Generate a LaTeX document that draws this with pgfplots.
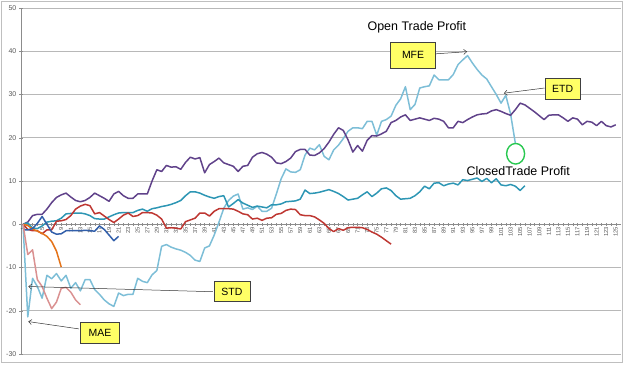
\documentclass[border=0pt]{standalone}
\usepackage{fontspec}
\setmainfont{Liberation Sans}
\usepackage{pgfplots}
\pgfplotsset{compat=1.18}
\usetikzlibrary{arrows.meta}
\definecolor{cpurple}{RGB}{96,66,138}
\definecolor{clblue}{RGB}{125,190,215}
\definecolor{cteal}{RGB}{45,150,180}
\definecolor{cred}{RGB}{190,55,50}
\definecolor{corange}{RGB}{228,115,25}
\definecolor{cdblue}{RGB}{50,95,170}
\definecolor{cpink}{RGB}{218,145,145}
\definecolor{cyellow}{RGB}{255,255,102}
\definecolor{cgreen}{RGB}{40,200,80}
\begin{document}
\begin{tikzpicture}
\path[use as bounding box] (-21bp,-20bp) rectangle (603bp,354bp);
\draw[black!25, line width=0.8pt] (-20bp,-8bp) rectangle (601.5bp,352.5bp);
\begin{axis}[
  at={(0,0)}, anchor=south west,
  scale only axis, width=600bp, height=346bp,
  xmin=0.58, xmax=126.1, ymin=-30, ymax=50,
  axis x line*=middle, axis y line*=left,
  axis line style={black!45, line width=0.6pt},
  clip=false,
  xtick={1,3,...,125},
  minor xtick={2,4,...,124},
  ytick={-30,-20,...,50},
  tick align=center,
  major tick length=3bp, minor tick length=3bp,
  tick style={black!45, line width=0.4pt},
  ymajorgrids,
  major grid style={black!28, line width=0.8pt},
  /pgf/number format/assume math mode=true,
  xticklabel style={rotate=90, anchor=east, font=\fontsize{5.8}{6}\selectfont, text=black!65, inner sep=1bp},
  yticklabel style={font=\fontsize{7}{8}\selectfont, text=black!65, inner sep=1bp, xshift=-2bp},
  every axis plot/.append style={line width=1.5pt, line join=round, no marks},
]
\addplot[clblue] coordinates {(1,0)(2,-21.4)(3,-12.5)(4,-14.4)(5,-17.1)(6,-11.8)(7,-12.6)(8,-11.4)(9,-13.1)(10,-11.8)(11,-14.8)(12,-13.5)(13,-15.4)(14,-12.8)(15,-12.8)(16,-15.1)(17,-16.2)(18,-17.5)(19,-18.4)(20,-19)(21,-15.9)(22,-16.5)(23,-16.2)(24,-16.2)(25,-12.5)(26,-13.2)(27,-13.5)(28,-11.7)(29,-10.7)(30,-5.1)(31,-4.7)(32,-5.3)(33,-5.7)(34,-6)(35,-6.5)(36,-7.2)(37,-8.3)(38,-8.6)(39,-5.5)(40,-5)(41,-2.5)(42,0.5)(43,3.7)(44,5.5)(45,6.5)(46,7)(47,3.5)(48,3.8)(49,3.4)(50,4.2)(51,3)(52,3)(53,3.7)(54,7)(55,10.5)(56,12.8)(57,12.1)(58,12)(59,12.6)(60,16)(61,17.6)(62,17.2)(63,18.4)(64,15.7)(65,14.9)(66,17.2)(67,18.3)(68,19.8)(69,21.5)(70,22.3)(71,22.3)(72,22.1)(73,23.8)(74,23.8)(75,20.6)(76,23.8)(77,24.2)(78,25)(79,27.5)(80,29)(81,31.8)(82,26.5)(83,27.7)(84,31.5)(85,31.8)(86,32)(87,34.5)(88,33.4)(89,33.4)(90,33.4)(91,34.6)(92,36.9)(93,38)(94,39)(95,37.3)(96,35.8)(97,34.5)(98,33.6)(99,31.8)(100,30)(101,28)(102,29.8)(103,25.5)(104,18.7)};
\addplot[cpurple] coordinates {(1,0)(2,0.5)(3,2)(4,2.3)(5,2.3)(6,3.5)(7,5)(8,6.2)(9,6.8)(10,7.2)(11,6.3)(12,5.5)(13,5.2)(14,5.5)(15,6.2)(16,7.2)(17,6.6)(18,6)(19,5.3)(20,7)(21,7.6)(22,6.6)(23,6)(24,6)(25,7)(26,7)(27,7)(28,10)(29,12.6)(30,12.2)(31,13.6)(32,13.2)(33,13.3)(34,12.7)(35,14.3)(36,15.5)(37,15.1)(38,15.4)(39,11.9)(40,13.8)(41,14.5)(42,15.3)(43,14.2)(44,13.8)(45,13.4)(46,12.2)(47,13.4)(48,13.6)(49,15.5)(50,16.3)(51,16.6)(52,16.2)(53,15.5)(54,14.2)(55,14)(56,14.5)(57,15.3)(58,16.8)(59,17.3)(60,17.3)(61,16)(62,15.9)(63,16.5)(64,17.5)(65,19)(66,20.8)(67,22.3)(68,21.7)(69,19.5)(70,16.7)(71,18.2)(72,16.9)(73,19.4)(74,20.5)(75,20.4)(76,20.9)(77,21.5)(78,23.5)(79,24)(80,24.8)(81,25.3)(82,24)(83,24.3)(84,24.6)(85,24.3)(86,24)(87,24.5)(88,24.3)(89,23.8)(90,22.3)(91,22.3)(92,23.8)(93,23.5)(94,24.2)(95,24.8)(96,25.3)(97,25.5)(98,25.6)(99,26.2)(100,26.5)(101,26.1)(102,25.6)(103,25.2)(104,26.5)(105,28)(106,27.6)(107,26.8)(108,26)(109,25.1)(110,24.2)(111,25.2)(112,25.3)(113,25.3)(114,24.6)(115,23.8)(116,24.6)(117,24.3)(118,23)(119,23.8)(120,23.6)(121,22.8)(122,23.8)(123,22.8)(124,22.5)(125,23)};
\addplot[cteal] coordinates {(1,0)(2,0.3)(3,-0.9)(4,-1)(5,-0.4)(6,0.5)(7,0.7)(8,0.8)(9,1.4)(10,2.4)(11,2.5)(12,2.6)(13,2.6)(14,2.4)(15,2)(16,1.3)(17,1.2)(18,1.2)(19,1.7)(20,2.2)(21,2.6)(22,2.7)(23,2.7)(24,2.7)(25,3.2)(26,3.5)(27,3)(28,3.6)(29,3.8)(30,4.1)(31,4.3)(32,4.6)(33,5)(34,5.5)(35,6.6)(36,7.5)(37,7.5)(38,7.2)(39,6.7)(40,6.3)(41,6)(42,6.4)(43,6.6)(44,4)(45,4.8)(46,5.7)(47,4.9)(48,4.4)(49,3.9)(50,4.2)(51,4)(52,3.8)(53,4.5)(54,4.5)(55,4.7)(56,5.2)(57,5.3)(58,5.4)(59,5.8)(60,7.9)(61,7.1)(62,7.2)(63,7.4)(64,7.7)(65,8)(66,7.6)(67,7.1)(68,6.4)(69,5.6)(70,5.8)(71,6)(72,6.8)(73,7.5)(74,6.4)(75,7.2)(76,8.2)(77,8.4)(78,7.8)(79,6.6)(80,5.8)(81,5.9)(82,6)(83,6.6)(84,7.5)(85,8.8)(86,8.2)(87,9.5)(88,9.6)(89,8.9)(90,9.3)(91,9.5)(92,9.1)(93,10.3)(94,10.1)(95,10.4)(96,10.7)(97,9.9)(98,10.6)(99,9.6)(100,10.5)(101,9.1)(102,8.9)(103,9.2)(104,8.8)(105,7.8)(106,8.9)};
\addplot[cred] coordinates {(1,0)(2,-1.2)(3,-1.5)(4,-1.5)(5,-2.2)(6,-1.3)(7,-1.3)(8,0.7)(9,0.8)(10,1.1)(11,2)(12,3.5)(13,4.2)(14,4.6)(15,4.3)(16,2.4)(17,2.7)(18,1.9)(19,1.1)(20,0.4)(21,1.2)(22,2.1)(23,2.6)(24,1.8)(25,2)(26,2.7)(27,2.7)(28,2.6)(29,2.1)(30,1.2)(31,-0.9)(32,-0.8)(33,-0.9)(34,-1.1)(35,0.6)(36,1)(37,1.4)(38,2.6)(39,2.6)(40,1.9)(41,3)(42,3.6)(43,3.6)(44,3.6)(45,3.5)(46,3)(47,2.4)(48,2.2)(49,1.2)(50,1.4)(51,0.9)(52,1.4)(53,1.5)(54,2.3)(55,2.5)(56,3.2)(57,3.5)(58,3.4)(59,2.2)(60,2)(61,2)(62,1.7)(63,1)(64,0.2)(65,-1)(66,-1.7)(67,-1)(68,-1.4)(69,-0.8)(70,-0.7)(71,-0.7)(72,-0.8)(73,-1.2)(74,-1.8)(75,-2.3)(76,-3)(77,-3.8)(78,-4.6)};
\addplot[corange] coordinates {(1,0)(2,-0.3)(3,-1.1)(4,-1.6)(5,-2.1)(6,-2.8)(7,-4)(8,-6.2)(9,-9.9)};
\addplot[cdblue] coordinates {(1,-1.3)(2,-1.3)(3,-1)(4,0.2)(5,1.8)(6,0)(7,-1.8)(8,-2.3)(9,-2.2)(10,-1.5)(11,-1.5)(12,-1.5)(13,-1.5)(14,-1.4)(15,-1.5)(16,-1.6)(17,-0.4)(18,-1.2)(19,-2.5)(20,-3.8)(21,-2.8)};
\addplot[cpink] coordinates {(1,0)(2,-7)(3,-5.9)(4,-12.8)(5,-14.4)(6,-17.1)(7,-19.5)(8,-18)(9,-14.8)(10,-14.6)(11,-15.7)(12,-17.5)(13,-18.6)};
% annotations
\node[font=\fontsize{12.5}{14}\selectfont] at (axis cs:83.4,45.5) {Open Trade Profit};
\node[font=\fontsize{12.5}{14}\selectfont] at (axis cs:104.6,12.3) {ClosedTrade Profit};
\draw[black!80, line width=0.5pt, -{Straight Barb[length=3bp,width=5bp]}] (axis cs:87.3,39.4) -- (axis cs:93.9,39.9);
\draw[black!80, line width=0.5pt, -{Straight Barb[length=3bp,width=5bp]}] (axis cs:110.1,31.5) -- (axis cs:101.6,30.3);
\draw[black!80, line width=0.5pt, -{Straight Barb[length=3bp,width=5bp]}] (axis cs:40.7,-15.6) -- (axis cs:2.1,-14.4);
\draw[black!80, line width=0.5pt, -{Straight Barb[length=3bp,width=5bp]}] (axis cs:12.7,-24.2) -- (axis cs:2.1,-22.5);
\tikzset{ybox/.style={draw=black!75, line width=0.8pt, fill=cyellow, font=\fontsize{10.5}{12}\selectfont, inner sep=0pt, align=center}}
\node[ybox, minimum width=44.5bp, minimum height=25.8bp] at (axis cs:82.6,39.1) {MFE};
\node[ybox, minimum width=35.5bp, minimum height=21bp] at (axis cs:113.9,31.3) {ETD};
\node[ybox, minimum width=36bp, minimum height=20bp] at (axis cs:44.7,-15.6) {STD};
\node[ybox, minimum width=38.6bp, minimum height=20.6bp] at (axis cs:17.1,-25.1) {MAE};
\draw[cgreen, line width=1.4pt] (axis cs:104.05,16.3) ellipse [x radius=9bp, y radius=10.3bp];
\end{axis}
\end{tikzpicture}
\end{document}
